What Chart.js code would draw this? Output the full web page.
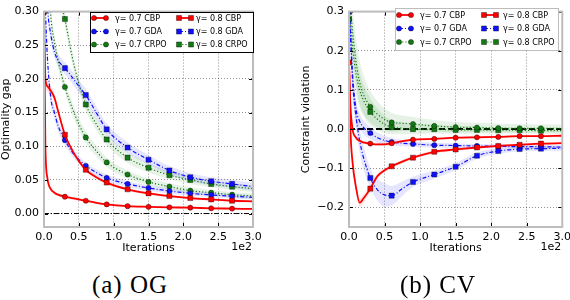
<!DOCTYPE html>
<html lang="en">
<head>
<meta charset="UTF-8">
<title>OG and CV</title>
<script src="https://cdn.jsdelivr.net/npm/chart.js"></script>
<style>
  body { margin: 0; width: 570px; height: 300px; overflow: hidden; background: #fff; position: relative; }
  .panel { position: absolute; top: 0; }
  .panel canvas { display: block; }
  .caption { position: absolute; top: 270px; width: 160px; text-align: center; letter-spacing: 1px;
             font-family: "Liberation Serif", serif; font-size: 25px; line-height: 30px; color: #000; }
</style>
</head>
<body>
<div class="panel" style="left:0"><canvas id="og" width="290" height="256"></canvas></div>
<div class="panel" style="left:285px"><canvas id="cv" width="290" height="256"></canvas></div>
<div class="caption" style="left:50px">(a) OG</div>
<div class="caption" style="left:358px">(b) CV</div>

<script>
// iterations, in units of 1e2
const X = [0, 0.02, 0.05, 0.1, 0.15, 0.2, 0.3, 0.4, 0.5, 0.6, 0.75, 0.9, 1.2, 1.5, 1.8, 2.1, 2.4, 2.7, 3.0];
const MARK_X = [0, 0.3, 0.6, 0.9, 1.2, 1.5, 1.8, 2.1, 2.4, 2.7];
const X_TICKS = [0, 0.5, 1, 1.5, 2, 2.5, 3];
const OG_TICKS = [0, 0.05, 0.1, 0.15, 0.2, 0.25, 0.3];
const CV_TICKS = [-0.2, -0.1, 0, 0.1, 0.2, 0.3];

const LABELS = ['γ= 0.7 CBP', 'γ= 0.7 GDA', 'γ= 0.7 CRPO', 'γ= 0.8 CBP', 'γ= 0.8 GDA', 'γ= 0.8 CRPO'];

// (a) optimality gap
const OG_CBP_07  = [0.30, 0.10, 0.052, 0.036, 0.031, 0.028, 0.025, 0.023, 0.021, 0.019, 0.016, 0.0136, 0.011, 0.010, 0.0092, 0.0087, 0.0078, 0.0073, 0.0068];
const OG_GDA_07  = [0.34, 0.30, 0.23, 0.17, 0.15, 0.131, 0.109, 0.092, 0.080, 0.071, 0.061, 0.053, 0.044, 0.038, 0.0335, 0.030, 0.0277, 0.0257, 0.024];
const OG_CRPO_07 = [0.50, 0.44, 0.37, 0.29, 0.255, 0.228, 0.188, 0.158, 0.133, 0.113, 0.093, 0.076, 0.058, 0.047, 0.040, 0.034, 0.031, 0.028, 0.026];
const OG_CBP_08  = [0.30, 0.20, 0.189, 0.182, 0.172, 0.153, 0.117, 0.095, 0.078, 0.065, 0.054, 0.046, 0.036, 0.030, 0.026, 0.023, 0.021, 0.019, 0.018];
const OG_GDA_08  = [0.45, 0.40, 0.31, 0.265, 0.240, 0.228, 0.216, 0.203, 0.189, 0.176, 0.150, 0.125, 0.098, 0.080, 0.064, 0.054, 0.048, 0.044, 0.040];
const OG_CRPO_08 = [0.60, 0.55, 0.50, 0.43, 0.37, 0.33, 0.289, 0.235, 0.193, 0.162, 0.133, 0.110, 0.083, 0.068, 0.057, 0.050, 0.044, 0.040, 0.037];
// half widths of the shaded bands
const OG_SD_CBP_07  = [0.004, 0.004, 0.003, 0.002, 0.002, 0.002, 0.002, 0.002, 0.002, 0.002, 0.0018, 0.0016, 0.0015, 0.0015, 0.0014, 0.0014, 0.0013, 0.0013, 0.0012];
const OG_SD_GDA_07  = [0.012, 0.012, 0.011, 0.010, 0.009, 0.008, 0.007, 0.006, 0.006, 0.005, 0.005, 0.005, 0.0045, 0.004, 0.004, 0.0035, 0.0035, 0.003, 0.003];
const OG_SD_CRPO_07 = [0.012, 0.012, 0.012, 0.011, 0.010, 0.010, 0.009, 0.009, 0.009, 0.009, 0.008, 0.007, 0.006, 0.005, 0.005, 0.0045, 0.004, 0.004, 0.004];
const OG_SD_CBP_08  = [0.006, 0.008, 0.008, 0.007, 0.006, 0.005, 0.004, 0.003, 0.003, 0.003, 0.0025, 0.0025, 0.002, 0.002, 0.002, 0.002, 0.0018, 0.0018, 0.0018];
const OG_SD_GDA_08  = [0.010, 0.010, 0.010, 0.010, 0.009, 0.009, 0.009, 0.009, 0.009, 0.009, 0.009, 0.0087, 0.008, 0.007, 0.0065, 0.006, 0.006, 0.006, 0.006];
const OG_SD_CRPO_08 = [0.012, 0.012, 0.012, 0.011, 0.010, 0.010, 0.010, 0.009, 0.009, 0.009, 0.009, 0.008, 0.008, 0.007, 0.006, 0.006, 0.005, 0.005, 0.005];

// (b) constraint violation
const CV_CBP_07  = [0.17, 0.06, 0.0, -0.022, -0.030, -0.034, -0.037, -0.039, -0.039, -0.036, -0.031, -0.027, -0.025, -0.022, -0.021, -0.020, -0.018, -0.018, -0.017];
const CV_GDA_07  = [0.30, 0.25, 0.14, 0.05, 0.02, 0.005, -0.010, -0.022, -0.029, -0.033, -0.036, -0.038, -0.041, -0.042, -0.043, -0.044, -0.045, -0.045, -0.046];
const CV_CRPO_07 = [0.28, 0.30, 0.25, 0.17, 0.12, 0.09, 0.057, 0.038, 0.025, 0.017, 0.015, 0.013, 0.008, 0.005, 0.004, 0.0025, 0.002, 0.002, 0.0015];
const CV_CBP_08  = [0.17, 0.0, -0.085, -0.15, -0.188, -0.178, -0.152, -0.120, -0.105, -0.095, -0.083, -0.073, -0.058, -0.052, -0.047, -0.043, -0.040, -0.037, -0.036];
const CV_GDA_08  = [0.30, 0.24, 0.12, 0.03, -0.03, -0.07, -0.125, -0.155, -0.168, -0.170, -0.152, -0.135, -0.116, -0.096, -0.068, -0.056, -0.051, -0.050, -0.049];
const CV_CRPO_08 = [0.28, 0.27, 0.21, 0.14, 0.10, 0.075, 0.044, 0.025, 0.012, 0.005, 0.002, 0.0, 0.0, -0.002, -0.002, -0.003, -0.003, -0.004, -0.004];
const CV_SD_CBP_07  = [0.01, 0.008, 0.006, 0.005, 0.004, 0.004, 0.004, 0.004, 0.004, 0.004, 0.003, 0.003, 0.003, 0.003, 0.003, 0.003, 0.003, 0.003, 0.003];
const CV_SD_GDA_07  = [0.02, 0.03, 0.03, 0.025, 0.02, 0.018, 0.015, 0.013, 0.012, 0.010, 0.008, 0.007, 0.006, 0.006, 0.005, 0.005, 0.005, 0.005, 0.005];
const CV_SD_CRPO_07 = [0.02, 0.04, 0.06, 0.06, 0.055, 0.05, 0.04, 0.033, 0.028, 0.024, 0.02, 0.018, 0.015, 0.013, 0.012, 0.011, 0.011, 0.01, 0.01];
const CV_SD_CBP_08  = [0.01, 0.01, 0.01, 0.01, 0.01, 0.01, 0.008, 0.006, 0.005, 0.005, 0.004, 0.004, 0.004, 0.003, 0.003, 0.003, 0.003, 0.003, 0.003];
const CV_SD_GDA_08  = [0.02, 0.03, 0.03, 0.03, 0.03, 0.03, 0.025, 0.028, 0.03, 0.025, 0.018, 0.013, 0.01, 0.009, 0.008, 0.007, 0.006, 0.006, 0.006];
const CV_SD_CRPO_08 = [0.02, 0.04, 0.05, 0.05, 0.045, 0.04, 0.035, 0.028, 0.022, 0.018, 0.015, 0.013, 0.011, 0.01, 0.009, 0.008, 0.008, 0.008, 0.008];

const RED = '#ff0000', BLUE = '#1010ff', GREEN = '#117a11';
const STYLE = [
  { color: RED,   band: 'rgba(255,0,0,0.13)', dash: [],           width: 1.8, point: 'circle', r: 2.6, order: 0 },
  { color: BLUE,  band: 'rgba(0,0,255,0.10)', dash: [4, 2, 1, 2], width: 1.2, point: 'circle', r: 2.6, order: 1 },
  { color: GREEN, band: 'rgba(0,128,0,0.10)', dash: [1.2, 2],     width: 1.2, point: 'circle', r: 2.6, order: 2 },
  { color: RED,   band: 'rgba(255,0,0,0.13)', dash: [],           width: 1.8, point: 'rect',   r: 3.6, order: 0 },
  { color: BLUE,  band: 'rgba(0,0,255,0.10)', dash: [4, 2, 1, 2], width: 1.2, point: 'rect',   r: 3.6, order: 1 },
  { color: GREEN, band: 'rgba(0,128,0,0.10)', dash: [1.2, 2],     width: 1.2, point: 'rect',   r: 3.6, order: 2 }
];

Chart.defaults.font.family = '"DejaVu Sans", sans-serif';
Chart.defaults.font.size = 11;
Chart.defaults.color = '#000';

function buildDatasets(series, spreads) {
  const out = [];
  series.forEach((vals, k) => {
    const st = STYLE[k];
    out.push({ data: X.map((x, i) => ({ x, y: vals[i] - spreads[k][i] })), borderColor: 'rgba(0,0,0,0)',
               pointRadius: 0, fill: false, order: 10, cubicInterpolationMode: 'monotone' });
    out.push({ data: X.map((x, i) => ({ x, y: vals[i] + spreads[k][i] })), borderColor: 'rgba(0,0,0,0)',
               pointRadius: 0, fill: '-1', backgroundColor: st.band, order: 10, cubicInterpolationMode: 'monotone' });
  });
  series.forEach((vals, k) => {
    const st = STYLE[k];
    out.push({
      label: LABELS[k],
      data: X.map((x, i) => ({ x, y: vals[i] })),
      borderColor: st.color, backgroundColor: st.color, borderWidth: st.width, borderDash: st.dash,
      pointStyle: st.point, legendR: st.r,
      pointRadius: c => MARK_X.includes(X[c.dataIndex]) ? st.r : 0,
      pointBackgroundColor: st.color, pointBorderColor: 'rgba(0,0,0,0.6)', pointBorderWidth: 0.6,
      fill: false, cubicInterpolationMode: 'monotone', order: st.order
    });
  });
  return out;
}

function mark(ctx, style, r, x, y) {
  ctx.beginPath();
  if (style === 'rect') {
    const h = r * Math.SQRT1_2;
    ctx.rect(x - h, y - h, 2 * h, 2 * h);
  } else {
    ctx.arc(x, y, r, 0, Math.PI * 2);
  }
  ctx.fill();
  ctx.stroke();
}

const frame = {
  id: 'frame',
  beforeDatasetsDraw(chart, args, o) {
    const { ctx, chartArea: { left, right }, scales: { y } } = chart;
    const py = y.getPixelForValue(o.zero);
    ctx.save();
    ctx.strokeStyle = '#000';
    ctx.lineWidth = o.zeroWidth;
    ctx.setLineDash(o.zeroDash);
    ctx.beginPath(); ctx.moveTo(left, py); ctx.lineTo(right, py); ctx.stroke();
    ctx.restore();
  },
  afterDraw(chart, args, o) {
    const { ctx, chartArea: { left, top, right, bottom }, scales: { x, y } } = chart;
    ctx.save();
    ctx.strokeStyle = '#000';
    ctx.lineWidth = 1;
    ctx.beginPath();
    x.ticks.forEach(t => {
      const px = Math.round(x.getPixelForValue(t.value)) + 0.5;
      ctx.moveTo(px, top); ctx.lineTo(px, top + 4);
      ctx.moveTo(px, bottom); ctx.lineTo(px, bottom - 4);
    });
    y.ticks.forEach(t => {
      const py = Math.round(y.getPixelForValue(t.value)) + 0.5;
      ctx.moveTo(left, py); ctx.lineTo(left + 4, py);
      ctx.moveTo(right, py); ctx.lineTo(right - 4, py);
    });
    ctx.stroke();
    ctx.strokeStyle = '#bdbdbd';
    ctx.lineWidth = 2;
    ctx.strokeRect(left, top, right - left, bottom - top);
    ctx.fillStyle = '#000';
    ctx.font = '11px "DejaVu Sans"';
    ctx.textAlign = 'right';
    ctx.textBaseline = 'middle';
    ctx.fillText('1e2', right - 1, 247);
    ctx.restore();
  }
};

const boxLegend = {
  id: 'boxLegend',
  afterDraw(chart, args, o) {
    const ctx = chart.ctx;
    ctx.save();
    ctx.fillStyle = '#fff';
    ctx.fillRect(o.x, o.y, o.w, o.h);
    ctx.strokeStyle = o.border;
    ctx.lineWidth = 1;
    ctx.strokeRect(o.x + 0.5, o.y + 0.5, o.w, o.h);
    chart.data.datasets.filter(d => d.label).forEach((d, i) => {
      const y = o.rows[i % 3];
      const [mx, tx] = o.cols[Math.floor(i / 3)];
      ctx.strokeStyle = d.borderColor;
      ctx.lineWidth = d.borderWidth;
      ctx.setLineDash(d.borderDash);
      ctx.beginPath(); ctx.moveTo(mx, y); ctx.lineTo(mx + o.len, y); ctx.stroke();
      ctx.setLineDash([]);
      ctx.fillStyle = d.borderColor;
      ctx.strokeStyle = 'rgba(0,0,0,0.6)';
      ctx.lineWidth = 0.6;
      mark(ctx, d.pointStyle, d.legendR, mx, y);
      mark(ctx, d.pointStyle, d.legendR, mx + o.len, y);
      ctx.fillStyle = '#000';
      ctx.font = '8px "DejaVu Sans"';
      ctx.textAlign = 'left';
      ctx.textBaseline = 'middle';
      ctx.fillText(d.label, tx, y + 0.5);
    });
    ctx.restore();
  }
};

function makeChart(id, c) {
  new Chart(document.getElementById(id), {
    type: 'line',
    data: { datasets: buildDatasets(c.series, c.spreads) },
    plugins: [frame, boxLegend],
    options: {
      responsive: false,
      animation: false,
      events: [],
      layout: { padding: c.padding },
      plugins: {
        legend: { display: false },
        tooltip: { enabled: false },
        frame: c.frame,
        boxLegend: c.legend
      },
      scales: {
        x: {
          type: 'linear', min: 0, max: 3,
          afterBuildTicks: s => { s.ticks = X_TICKS.map(v => ({ value: v })); },
          afterFit: s => { s.height = 29; },
          ticks: { callback: v => v.toFixed(1), padding: 4, maxRotation: 0, autoSkip: false },
          grid: { color: 'rgba(0,0,0,0.55)', lineWidth: 0.8, drawTicks: false },
          border: { display: false, dash: [1, 2] },
          title: { display: true, text: 'Iterations', padding: { top: 0, bottom: 1.5 } }
        },
        y: {
          type: 'linear', min: c.yMin, max: c.yMax,
          afterBuildTicks: s => { s.ticks = c.yTicks.map(v => ({ value: v })); },
          afterFit: s => { s.width = c.yWidth; },
          ticks: { callback: c.fmt, padding: 5, autoSkip: false },
          grid: { color: 'rgba(0,0,0,0.55)', lineWidth: 0.8, drawTicks: false },
          border: { display: false, dash: [1, 2] },
          title: { display: true, text: c.yTitle, padding: { top: c.titlePad, bottom: 0 } }
        }
      }
    }
  });
}

makeChart('og', {
  series: [OG_CBP_07, OG_GDA_07, OG_CRPO_07, OG_CBP_08, OG_GDA_08, OG_CRPO_08],
  spreads: [OG_SD_CBP_07, OG_SD_GDA_07, OG_SD_CRPO_07, OG_SD_CBP_08, OG_SD_GDA_08, OG_SD_CRPO_08],
  yMin: -0.02, yMax: 0.3, yTicks: OG_TICKS, fmt: v => v.toFixed(2),
  yTitle: 'Optimality gap', titlePad: 0, yWidth: 44,
  padding: { left: 0, right: 37, top: 7, bottom: 0 },
  frame: { zero: 0, zeroWidth: 1, zeroDash: [5, 2, 1, 2] },
  legend: { x: 90, y: 12, w: 163, h: 40, border: '#000', rows: [18, 31.5, 44.5],
            cols: [[94, 115], [179, 196]], len: 12 }
});

makeChart('cv', {
  series: [CV_CBP_07, CV_GDA_07, CV_CRPO_07, CV_CBP_08, CV_GDA_08, CV_CRPO_08],
  spreads: [CV_SD_CBP_07, CV_SD_GDA_07, CV_SD_CRPO_07, CV_SD_CBP_08, CV_SD_GDA_08, CV_SD_CRPO_08],
  yMin: -0.25, yMax: 0.3, yTicks: CV_TICKS, fmt: v => v.toFixed(1).replace('-', '\u2212'),
  yTitle: 'Constraint violation', titlePad: 15, yWidth: 64,
  padding: { left: 0, right: 12, top: 6, bottom: 0 },
  frame: { zero: 0, zeroWidth: 2, zeroDash: [6, 3] },
  legend: { x: 110, y: 8, w: 163, h: 42, border: '#bdbdbd', rows: [15, 28.5, 42],
            cols: [[114, 135], [199, 218]], len: 12 }
});
</script>
</body>
</html>
